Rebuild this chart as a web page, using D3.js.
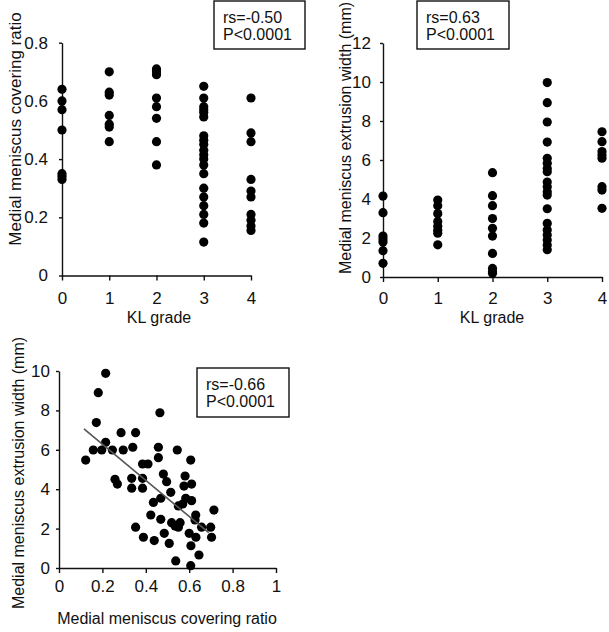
<!DOCTYPE html>
<html>
<head>
<meta charset="utf-8">
<script src="https://cdn.jsdelivr.net/npm/d3@7"></script>
<style>
  body { margin: 0; background: #fff; }
  svg { font-family: "Liberation Sans", Arial, sans-serif; }
</style>
</head>
<body>
<div id="chart"></div>
<script>
// KL grade groups
const klGrades = [0, 1, 2, 3, 4];

// Medial meniscus covering ratio, by KL grade
const coverByGrade = [
  [0.64, 0.60, 0.57, 0.50, 0.35, 0.34, 0.33],
  [0.70, 0.63, 0.62, 0.55, 0.52, 0.51, 0.46],
  [0.71, 0.70, 0.69, 0.61, 0.58, 0.54, 0.46, 0.38],
  [0.65, 0.61, 0.58, 0.57, 0.56, 0.545, 0.48, 0.465, 0.45, 0.43, 0.415, 0.40, 0.38,
   0.35, 0.30, 0.27, 0.24, 0.21, 0.18, 0.115],
  [0.61, 0.49, 0.46, 0.33, 0.29, 0.27, 0.21, 0.19, 0.17, 0.155],
];

// Medial meniscus extrusion width (mm), by KL grade
const extrusionByGrade = [
  [4.15, 3.3, 2.1, 1.95, 1.8, 1.35, 0.7],
  [3.95, 3.65, 3.25, 2.85, 2.6, 2.4, 2.25, 1.65],
  [5.35, 4.17, 3.66, 3.0, 2.5, 2.1, 1.21, 0.44, 0.27, 0.19],
  [9.97, 8.94, 7.95, 6.92, 6.09, 5.83, 5.57, 5.4, 4.87, 4.63, 4.37, 4.2, 3.5,
   2.75, 2.41, 2.15, 1.9, 1.64, 1.4],
  [7.45, 6.94, 6.43, 6.26, 6.09, 4.63, 4.46, 3.52],
];

// covering ratio vs extrusion width, one entry per knee
const scatterRatio = [0.215, 0.181, 0.172, 0.465, 0.286, 0.353, 0.215, 0.123, 0.158, 0.197,
  0.246, 0.296, 0.34, 0.458, 0.545, 0.458, 0.607, 0.385, 0.41, 0.258,
  0.269, 0.335, 0.335, 0.385, 0.385, 0.481, 0.496, 0.581, 0.576, 0.611,
  0.515, 0.435, 0.469, 0.584, 0.611, 0.55, 0.57, 0.63, 0.423, 0.469,
  0.627, 0.714, 0.519, 0.535, 0.558, 0.55, 0.657, 0.699, 0.353, 0.485,
  0.6, 0.631, 0.703, 0.389, 0.439, 0.508, 0.608, 0.645, 0.538, 0.607];
const scatterWidth = [9.88, 8.9, 7.38, 7.88, 6.87, 6.87, 6.38, 5.48, 5.99, 5.99,
  5.99, 5.99, 6.13, 6.13, 5.99, 5.6, 5.48, 5.28, 5.28, 4.5,
  4.26, 4.55, 4.05, 4.55, 4.05, 4.77, 4.38, 4.67, 4.16, 4.26,
  3.84, 3.33, 3.54, 3.54, 3.42, 3.15, 3.25, 2.69, 2.69, 2.47,
  2.44, 2.94, 2.3, 2.13, 2.3, 2.07, 2.07, 2.07, 2.07, 1.76,
  1.76, 1.56, 1.56, 1.56, 1.39, 1.25, 1.13, 0.66, 0.36, 0.12];

// fitted line end points
const fitRatio = [0.115, 0.69];
const fitWidth = [7.06, 1.79];

// tick labels
const coverTicks = [0, 0.2, 0.4, 0.6, 0.8];
const extrusionTicks = [0, 2, 4, 6, 8, 10, 12];
const scatterXTicks = [0, 0.2, 0.4, 0.6, 0.8, 1];
const scatterYTicks = [0, 2, 4, 6, 8, 10];

// stats boxes
const statsA = ["rs=-0.50", "P<0.0001"];
const statsB = ["rs=0.63", "P<0.0001"];
const statsC = ["rs=-0.66", "P<0.0001"];

const W = 609, H = 632;
const R = 4.6;

const svg = d3.select("#chart").append("svg")
  .attr("width", W).attr("height", H);

function styleAxis(g) {
  g.select(".domain").attr("stroke", "#111").attr("stroke-width", 1.4);
  g.selectAll(".tick line").attr("stroke", "#111").attr("stroke-width", 1.4);
  g.selectAll(".tick text").attr("fill", "#111").style("font-size", "17px");
}

function drawAxes(x, y, xTicks, yTicks, xPad, yPad) {
  const xa = svg.append("g")
    .attr("transform", `translate(0, ${y.range()[0]})`)
    .call(d3.axisBottom(x).tickValues(xTicks).tickSize(5).tickSizeOuter(0)
      .tickPadding(xPad).tickFormat(d => String(d)));
  styleAxis(xa);
  const ya = svg.append("g")
    .attr("transform", `translate(${x.range()[0]}, 0)`)
    .call(d3.axisLeft(y).tickValues(yTicks).tickSize(3).tickSizeOuter(0)
      .tickPadding(yPad).tickFormat(d => String(d)));
  styleAxis(ya);
}

function yTitle(text, x, y, size) {
  svg.append("text")
    .attr("transform", `translate(${x}, ${y}) rotate(-90)`)
    .attr("text-anchor", "middle")
    .attr("fill", "#111")
    .style("font-size", size + "px")
    .text(text);
}

function xTitle(text, x, y) {
  svg.append("text")
    .attr("x", x).attr("y", y)
    .attr("text-anchor", "middle")
    .attr("fill", "#111")
    .style("font-size", "16px")
    .text(text);
}

function statsBox(lines, x, y, w, h) {
  svg.append("rect")
    .attr("x", x).attr("y", y).attr("width", w).attr("height", h)
    .attr("fill", "#fff").attr("stroke", "#111").attr("stroke-width", 1.4);
  svg.append("g").selectAll("text").data(lines).enter()
    .append("text")
    .attr("x", x + 9)
    .attr("y", (d, i) => y + 22 + i * 17)
    .attr("fill", "#111")
    .style("font-size", "16px")
    .text(d => d);
}

function gradeDots(x, y, byGrade) {
  const pts = [];
  byGrade.forEach((vals, i) => vals.forEach(v => pts.push({ g: klGrades[i], v: v })));
  svg.append("g").selectAll("circle").data(pts).enter()
    .append("circle")
    .attr("cx", d => x(d.g))
    .attr("cy", d => y(d.v))
    .attr("r", R)
    .attr("fill", "#000");
}

/** Panel A: covering ratio by KL grade */
const xA = d3.scaleLinear().domain([0, 4]).range([62, 251]);
const yA = d3.scaleLinear().domain([0, 0.8]).range([275.5, 42.7]);
drawAxes(xA, yA, klGrades, coverTicks, 11, 11);
gradeDots(xA, yA, coverByGrade);
yTitle("Medial meniscus covering ratio", 21, 129, 17);
xTitle("KL grade", 159, 323);
statsBox(statsA, 214, 1, 91, 48);

/** Panel B: extrusion width by KL grade */
const xB = d3.scaleLinear().domain([0, 4]).range([383, 602]);
const yB = d3.scaleLinear().domain([0, 12]).range([277, 43]);
drawAxes(xB, yB, klGrades, extrusionTicks, 10, 9);
gradeDots(xB, yB, extrusionByGrade);
yTitle("Medial meniscus extrusion width (mm)", 351, 138, 16);
xTitle("KL grade", 492, 323);
statsBox(statsB, 417, 1, 92, 48);

/** Panel C: covering ratio vs extrusion width */
const xC = d3.scaleLinear().domain([0, 1]).range([59, 276]);
const yC = d3.scaleLinear().domain([0, 10]).range([568, 371]);
drawAxes(xC, yC, scatterXTicks, scatterYTicks, 7, 6);

svg.append("g").selectAll("circle").data(scatterRatio).enter()
  .append("circle")
  .attr("cx", d => xC(d))
  .attr("cy", (d, i) => yC(scatterWidth[i]))
  .attr("r", R)
  .attr("fill", "#000");

svg.append("line")
  .attr("x1", xC(fitRatio[0])).attr("y1", yC(fitWidth[0]))
  .attr("x2", xC(fitRatio[1])).attr("y2", yC(fitWidth[1]))
  .attr("stroke", "#555").attr("stroke-width", 1.6);

yTitle("Medial meniscus extrusion width (mm)", 24, 473, 16);
xTitle("Medial meniscus covering ratio", 167, 624);
statsBox(statsC, 197, 368, 92, 49);
</script>
</body>
</html>
